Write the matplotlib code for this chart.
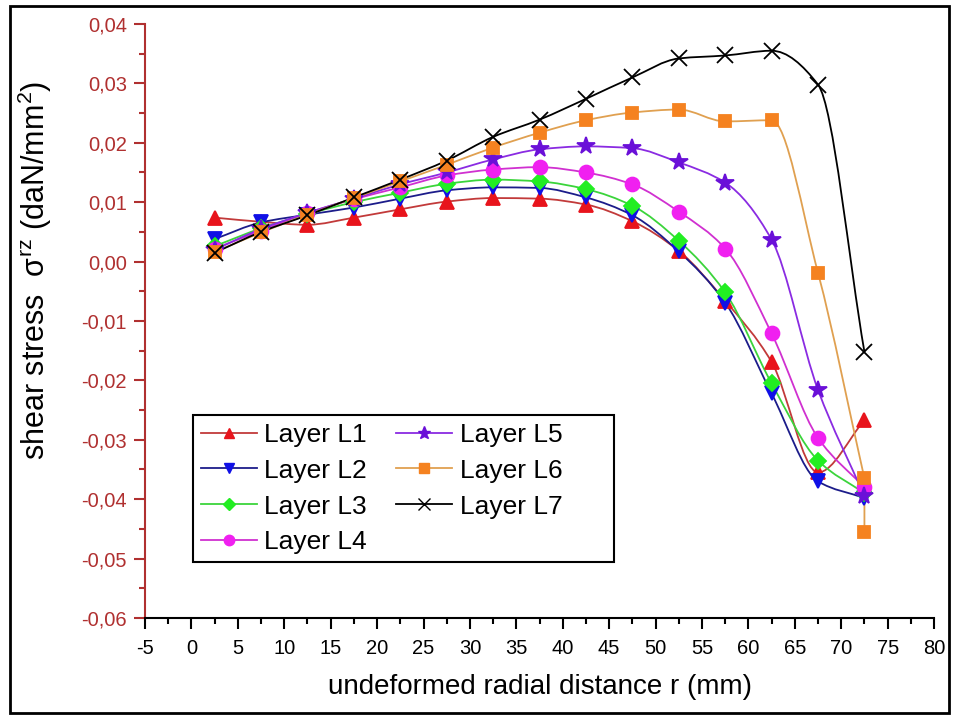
import numpy as np
import matplotlib
matplotlib.use('Agg')
import matplotlib.pyplot as plt
from matplotlib.path import Path
from matplotlib.patches import PathPatch, Rectangle
from matplotlib.lines import Line2D
from matplotlib.ticker import FuncFormatter, MultipleLocator

plt.rcParams['font.family'] = ['Liberation Sans', 'DejaVu Sans']
plt.rcParams['mathtext.fontset'] = 'custom'
plt.rcParams['mathtext.rm'] = 'Liberation Sans'
plt.rcParams['mathtext.it'] = 'Liberation Sans'
plt.rcParams['axes.unicode_minus'] = False

# radial positions (mm)
r = [2.5, 7.5, 12.5, 17.5, 22.5, 27.5, 32.5, 37.5, 42.5, 47.5, 52.5, 57.5, 62.5, 67.5, 72.5]
r_l6 = r + [72.5]

# shear stress values (daN/mm2)
l1 = [0.0074, 0.0067, 0.0062, 0.0074, 0.0088, 0.0101, 0.0107, 0.0106, 0.0096, 0.0068,
      0.0018, -0.0066, -0.0169, -0.0355, -0.0267]
l2 = [0.0038, 0.0066, 0.0079, 0.0091, 0.0106, 0.0120, 0.0125, 0.0124, 0.0108, 0.0078,
      0.0017, -0.0069, -0.0222, -0.0370, -0.0398]
l3 = [0.0026, 0.0056, 0.0080, 0.0100, 0.0116, 0.0131, 0.0138, 0.0135, 0.0122, 0.0094,
      0.0035, -0.0052, -0.0205, -0.0335, -0.0390]
l4 = [0.0022, 0.0052, 0.0082, 0.0105, 0.0125, 0.0145, 0.0155, 0.0159, 0.0150, 0.0130,
      0.0084, 0.0022, -0.0121, -0.0297, -0.0380]
l5 = [0.0020, 0.0055, 0.0082, 0.0106, 0.0130, 0.0150, 0.0172, 0.0189, 0.0194, 0.0191,
      0.0167, 0.0133, 0.0037, -0.0216, -0.0395]
l6 = [0.0016, 0.0049, 0.0079, 0.0107, 0.0135, 0.0163, 0.0192, 0.0217, 0.0238, 0.0251,
      0.0256, 0.0236, 0.0238, -0.0019, -0.0365, -0.0455]
l7 = [0.0015, 0.0050, 0.0078, 0.0108, 0.0138, 0.0170, 0.0210, 0.0239, 0.0274, 0.0310,
      0.0342, 0.0347, 0.0355, 0.0298, -0.0152]

labels = ['Layer L1', 'Layer L2', 'Layer L3', 'Layer L4', 'Layer L5', 'Layer L6', 'Layer L7']


def slopes(x, y):
    # monotone (fritsch-carlson) tangents
    h = np.diff(x)
    d = np.diff(y) / h
    m = np.zeros(len(x))
    m[0], m[-1] = d[0], d[-1]
    for k in range(1, len(x) - 1):
        if d[k - 1] * d[k] > 0:
            w1 = 2 * h[k] + h[k - 1]
            w2 = h[k] + 2 * h[k - 1]
            m[k] = (w1 + w2) / (w1 / d[k - 1] + w2 / d[k])
    return m


def smooth_path(x, y):
    x = np.asarray(x, float)
    y = np.asarray(y, float)
    # a repeated x at the end is joined by a straight segment
    n = len(x)
    while n > 1 and x[n - 1] == x[n - 2]:
        n -= 1
    xs, ys = x[:n], y[:n]
    m = slopes(xs, ys)
    verts = [(xs[0], ys[0])]
    codes = [Path.MOVETO]
    for i in range(n - 1):
        h = xs[i + 1] - xs[i]
        verts += [(xs[i] + h / 3, ys[i] + m[i] * h / 3),
                  (xs[i + 1] - h / 3, ys[i + 1] - m[i + 1] * h / 3),
                  (xs[i + 1], ys[i + 1])]
        codes += [Path.CURVE4] * 3
    for j in range(n, len(x)):
        verts.append((x[j], y[j]))
        codes.append(Path.LINETO)
    return Path(verts, codes)


fig = plt.figure(figsize=(9.58, 7.21), dpi=100)
ax = fig.add_axes([0.1514, 0.1429, 0.8236, 0.8238])

series = [
    (r, l1, '#c23a3a', '#e8141c', '^', 10),
    (r, l2, '#1c1c8a', '#1010e6', 'v', 10),
    (r, l3, '#3bd43b', '#22ee22', 'D', 8),
    (r, l4, '#d030d0', '#f020f0', 'o', 10),
    (r, l5, '#8a2be2', '#6a10d8', '*', 13),
    (r_l6, l6, '#e0a050', '#f58220', 's', 9),
    (r, l7, '#000000', '#000000', 'x', 11),
]

handles = []
for (x, y, lc, mc, mk, ms), lab in zip(series, labels):
    ax.add_patch(PathPatch(smooth_path(x, y), fill=False, edgecolor=lc, lw=1.3, zorder=2))
    ax.plot(x, y, ls='none', marker=mk, ms=ms, color=mc, mec=mc, mew=1.3, zorder=3)
    handles.append(Line2D([], [], color=lc, lw=1.3, marker=mk, ms=ms * 0.75,
                          mfc=mc, mec=mc, mew=1.0))

ax.set_xlim(-5, 80)
ax.set_ylim(-0.06, 0.04)
ax.xaxis.set_major_locator(MultipleLocator(5))
ax.xaxis.set_minor_locator(MultipleLocator(2.5))
ax.yaxis.set_major_locator(MultipleLocator(0.01))
ax.yaxis.set_minor_locator(MultipleLocator(0.005))
ax.yaxis.set_major_formatter(FuncFormatter(
    lambda v, p: ('%.2f' % (round(v, 4) + 0.0)).replace('.', ',').replace('-0,00', '0,00')))

dark_red = '#b03030'
ax.spines['top'].set_visible(False)
ax.spines['right'].set_visible(False)
ax.spines['left'].set_color(dark_red)
ax.spines['left'].set_linewidth(1.5)
ax.spines['bottom'].set_linewidth(1.5)
ax.tick_params(axis='both', which='major', direction='out', length=8, width=1.5)
ax.tick_params(axis='both', which='minor', direction='out', length=4.5, width=1.5)
ax.tick_params(axis='y', which='both', color=dark_red, labelcolor=dark_red, labelsize=14.5,
               pad=5)
ax.tick_params(axis='x', labelsize=14.5, pad=7)

ax.set_xlabel('undeformed radial distance r (mm)', fontsize=20, labelpad=12)
ax.set_ylabel(r'shear stress  $\sigma^{\mathrm{rz}}$ (daN/mm$^{\mathrm{2}}$)', fontsize=22)
ax.yaxis.set_label_coords(-0.115, 0.585)

# extra room after the second column, as in the original legend box
leg_labels = labels[:4] + [s + '      ' for s in labels[4:]]
leg = ax.legend(handles, leg_labels, ncol=2, loc='upper left', bbox_to_anchor=(0.061, 0.342),
                borderaxespad=0, fontsize=19, fancybox=False, framealpha=1,
                edgecolor='black', handlelength=2.1, handletextpad=0.3,
                columnspacing=1.1, labelspacing=0.45, borderpad=0.3)
leg.get_frame().set_linewidth(1.5)

# frame around the whole picture
fig.patches.append(Rectangle((0.0105, 0.011), 0.98, 0.98, transform=fig.transFigure,
                             fill=False, edgecolor='black', lw=2))

fig.savefig('out.png', dpi=100)
